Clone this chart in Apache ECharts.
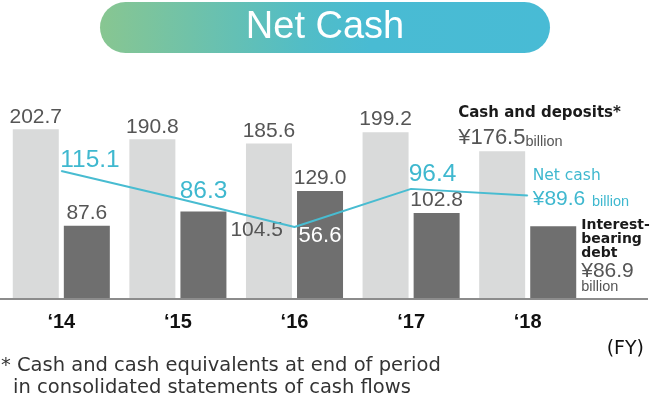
<!DOCTYPE html>
<html><head><meta charset="utf-8">
<script src="https://cdn.jsdelivr.net/npm/echarts/dist/echarts.min.js"></script>
<style>html,body{margin:0;padding:0;background:#fff}#c{width:651px;height:402px}</style>
</head><body><div id="c"></div>
<script>
const categories = ['\u201814','\u201815','\u201816','\u201817','\u201818'];
const cashAndDeposits = [202.7, 190.8, 185.6, 199.2, 176.5];
const interestBearingDebt = [87.6, 104.5, 129.0, 102.8, 86.9];
const netCash = [115.1, 86.3, 56.6, 96.4, 89.6];
const titleText = 'Net Cash';
const footnoteLines = ['* Cash and cash equivalents at end of period', 'in consolidated statements of cash flows'];
const fyText = '(FY)';

const NUM_FONT = '"Liberation Sans", Arial, sans-serif';
const TXT_FONT = '"DejaVu Sans", sans-serif';
const GREY = '#555555';
const CYAN = '#3fb8cf';
const LINE_C = '#48bcd1';
const fmt = v => Number(v).toFixed(1);
const last = categories.length - 1;

const chart = echarts.init(document.getElementById('c'), null, {renderer: 'canvas'});

const cashData = cashAndDeposits.map((v, i) => {
  if (i === last) return {
    value: v,
    label: {
      position: [-21, -2], align: 'left', verticalAlign: 'bottom',
      formatter: p => '{t|Cash and deposits*}\n{v|\u00a5' + fmt(p.value) + '}{u|billion}',
      rich: {
        t: {fontFamily: TXT_FONT, fontWeight: 'bold', fontSize: 15, color: '#1a1a1a', lineHeight: 21},
        v: {fontFamily: NUM_FONT, fontSize: 22, color: GREY, lineHeight: 26, verticalAlign: 'bottom'},
        u: {fontFamily: NUM_FONT, fontSize: 14.5, color: GREY, lineHeight: 21, verticalAlign: 'bottom'}
      }
    }
  };
  return v;
});

const debtData = interestBearingDebt.map((v, i) => {
  if (i === 1) return {value: v, label: {position: [50, 19], align: 'left', verticalAlign: 'middle'}};
  if (i === last) return {
    value: v,
    label: {
      position: [51, -8], align: 'left', verticalAlign: 'top',
      formatter: p => '{t|Interest-}\n{t|bearing}\n{t|debt}\n{v|\u00a5' + fmt(p.value) + '}\n{u|billion}',
      rich: {
        t: {fontFamily: TXT_FONT, fontWeight: 'bold', fontSize: 14, color: '#1a1a1a', lineHeight: 14},
        v: {fontFamily: NUM_FONT, fontSize: 21, color: GREY, lineHeight: 22},
        u: {fontFamily: NUM_FONT, fontSize: 14.5, color: GREY, lineHeight: 10}
      }
    }
  };
  return v;
});

const lineOffsets = [[28.7, -10.3], [25.6, -7.2], [25.5, 8.6], [21.4, -14.5]];
const netData = netCash.map((v, i) => {
  if (i === last) return {
    value: v,
    label: {
      position: [5.5, -28.3], align: 'left', verticalAlign: 'top',
      formatter: p => '{n|Net cash}\n{v|\u00a5' + fmt(p.value) + '} {u|billion}',
      rich: {
        n: {fontFamily: TXT_FONT, fontSize: 15.5, color: CYAN, lineHeight: 18},
        v: {fontFamily: NUM_FONT, fontSize: 21, color: CYAN, lineHeight: 22, verticalAlign: 'bottom'},
        u: {fontFamily: NUM_FONT, fontSize: 14.5, color: CYAN, lineHeight: 18, verticalAlign: 'bottom'}
      }
    }
  };
  const lab = {offset: lineOffsets[i]};
  if (i === 2) { lab.color = '#ffffff'; lab.fontSize = 22; }
  return {value: v, label: lab};
});

const option = {
  animation: false,
  grid: {left: 3, right: 65, top: 98, bottom: 103},
  xAxis: {
    type: 'category', data: categories,
    axisLine: {show: false}, axisTick: {show: false}, splitLine: {show: false},
    axisLabel: {margin: 13, color: '#111111', fontFamily: NUM_FONT, fontWeight: 'bold', fontSize: 20}
  },
  yAxis: [
    {type: 'value', min: 0, max: 240, show: false, splitLine: {show: false}},
    {type: 'value', min: -18.6, max: 191.3, show: false, splitLine: {show: false}}
  ],
  series: [
    {
      name: 'Cash and deposits', type: 'bar', data: cashData, barWidth: 46, barGap: '11%',
      itemStyle: {color: '#d9dada'},
      label: {show: true, position: 'top', distance: 2, color: GREY, fontFamily: NUM_FONT, fontSize: 21, formatter: p => fmt(p.value)},
      emphasis: {disabled: true}
    },
    {
      name: 'Interest-bearing debt', type: 'bar', data: debtData, barWidth: 46, barGap: '11%',
      itemStyle: {color: '#6f6f6f'},
      label: {show: true, position: 'top', distance: 2, color: GREY, fontFamily: NUM_FONT, fontSize: 21, formatter: p => fmt(p.value)},
      emphasis: {disabled: true}
    },
    {
      name: 'Net cash', type: 'line', yAxisIndex: 1, data: netData, z: 5,
      symbol: 'circle', symbolSize: 1, showSymbol: true,
      lineStyle: {color: LINE_C, width: 2}, itemStyle: {color: LINE_C},
      label: {show: true, position: 'inside', color: CYAN, fontFamily: NUM_FONT, fontSize: 24.5, formatter: p => fmt(p.value)},
      emphasis: {disabled: true}
    }
  ],
  graphic: [
    {type: 'rect', shape: {x: 100, y: 2, width: 450, height: 51, r: 25.5}, z: 10,
     style: {fill: new echarts.graphic.LinearGradient(0, 0, 1, 0, [
       {offset: 0, color: '#88c691'}, {offset: 0.45, color: '#52bdc6'}, {offset: 0.6, color: '#49bbd3'}, {offset: 1, color: '#48bbd5'}])}},
    {type: 'text', x: 325, y: 28, z: 11, style: {text: titleText, fill: '#ffffff', fontFamily: NUM_FONT, fontSize: 38, align: 'center', verticalAlign: 'middle'}},
    {type: 'line', shape: {x1: 0, y1: 299, x2: 648, y2: 299}, z: 10, style: {stroke: '#8c8c8c', lineWidth: 2}},
    {type: 'text', x: 644, y: 349, z: 11, style: {text: fyText, fill: '#111111', fontFamily: TXT_FONT, fontSize: 19, align: 'right', verticalAlign: 'middle'}},
    {type: 'text', x: 1, y: 366, z: 11, style: {text: footnoteLines[0], fill: '#333333', fontFamily: TXT_FONT, fontSize: 19.5, align: 'left', verticalAlign: 'middle'}},
    {type: 'text', x: 13, y: 388, z: 11, style: {text: footnoteLines[1], fill: '#333333', fontFamily: TXT_FONT, fontSize: 19.5, align: 'left', verticalAlign: 'middle'}}
  ]
};
chart.setOption(option);
</script>
</body></html>
